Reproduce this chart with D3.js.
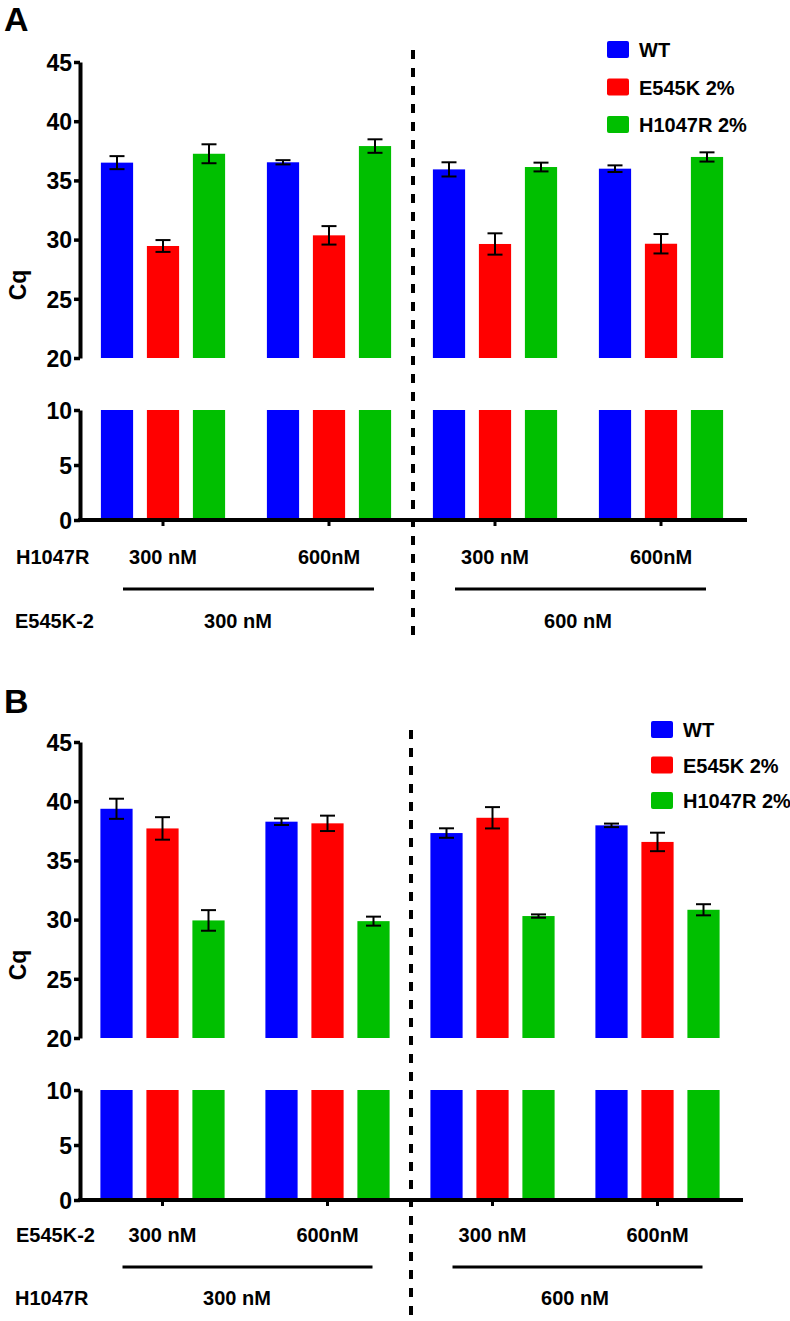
<!DOCTYPE html>
<html><head><meta charset="utf-8">
<script src="https://cdn.jsdelivr.net/npm/d3@7"></script>
<style>
html,body{margin:0;padding:0;background:#fff;}
svg text{font-family:"Liberation Sans",Arial,Helvetica,sans-serif;font-weight:bold;fill:#000;}
</style></head>
<body>
<svg id="chart" width="790" height="1321"></svg>
<script>
// ---------- data ----------
const groups = ["G1", "G2", "G3", "G4"];
const seriesNames = ["WT", "E545K 2%", "H1047R 2%"];
const seriesColors = ["#0000FF", "#FF0000", "#00BF00"];
const upperTicks = [20, 25, 30, 35, 40, 45];
const lowerTicks = [0, 5, 10];

// Panel A
const aWT = [36.50, 36.53, 35.93, 35.99];
const aWTErr = [0.55, 0.18, 0.60, 0.28];
const aE545K = [29.46, 30.36, 29.63, 29.65];
const aE545KErr = [0.50, 0.78, 0.90, 0.82];
const aH1047R = [37.25, 37.90, 36.13, 36.98];
const aH1047RErr = [0.80, 0.57, 0.37, 0.39];
const aRow1Title = "H1047R";
const aRow1Labels = ["300 nM", "600nM", "300 nM", "600nM"];
const aRow2Title = "E545K-2";
const aRow2Labels = ["300 nM", "600 nM"];

// Panel B
const bWT = [39.36, 38.27, 37.31, 37.96];
const bWTErr = [0.85, 0.28, 0.40, 0.15];
const bE545K = [37.70, 38.13, 38.60, 36.56];
const bE545KErr = [0.95, 0.65, 0.90, 0.78];
const bH1047R = [29.93, 29.87, 30.30, 30.83];
const bH1047RErr = [0.87, 0.38, 0.14, 0.47];
const bRow1Title = "E545K-2";
const bRow1Labels = ["300 nM", "600nM", "300 nM", "600nM"];
const bRow2Title = "H1047R";
const bRow2Labels = ["300 nM", "600 nM"];

// ---------- drawing ----------
const svg = d3.select("#chart");

function drawPanel(cfg) {
  const g = svg.append("g").attr("transform", `translate(0,${cfg.dy})`);
  const values = cfg.values, errs = cfg.errs;

  const x = d3.scaleBand().domain(groups).range([80, cfg.xEnd]);
  const sub = d3.scaleBand().domain(seriesNames).range([-69, 69]).paddingInner(0.3).paddingOuter(0.15);
  const yU = d3.scaleLinear().domain([20, 45]).range([358, 62]);
  const yL = d3.scaleLinear().domain([0, 10]).range([520, 410]);
  const cx = gname => x(gname) + x.bandwidth() / 2;

  const recs = [];
  seriesNames.forEach((s, si) => {
    groups.forEach((gn, gi) => {
      recs.push({s, si, gn, v: values[si][gi], e: errs[si][gi]});
    });
  });

  g.selectAll("rect.up").data(recs).join("rect").attr("class", "up")
    .attr("x", d => cx(d.gn) + sub(d.s))
    .attr("width", sub.bandwidth())
    .attr("y", d => yU(d.v))
    .attr("height", d => yU(20) - yU(d.v))
    .attr("fill", d => seriesColors[d.si]);
  g.selectAll("rect.lo").data(recs).join("rect").attr("class", "lo")
    .attr("x", d => cx(d.gn) + sub(d.s))
    .attr("width", sub.bandwidth())
    .attr("y", d => yL(Math.min(d.v, 10)))
    .attr("height", d => yL(0) - yL(Math.min(d.v, 10)))
    .attr("fill", d => seriesColors[d.si]);

  const eg = g.selectAll("g.err").data(recs).join("g").attr("class", "err")
    .attr("stroke", "#000").attr("stroke-width", 2);
  eg.append("line")
    .attr("x1", d => cx(d.gn) + sub(d.s) + sub.bandwidth() / 2)
    .attr("x2", d => cx(d.gn) + sub(d.s) + sub.bandwidth() / 2)
    .attr("y1", d => yU(d.v + d.e)).attr("y2", d => yU(d.v - d.e));
  [1, -1].forEach(sign => {
    eg.append("line")
      .attr("x1", d => cx(d.gn) + sub(d.s) + sub.bandwidth() / 2 - 7.5)
      .attr("x2", d => cx(d.gn) + sub(d.s) + sub.bandwidth() / 2 + 7.5)
      .attr("y1", d => yU(d.v + sign * d.e)).attr("y2", d => yU(d.v + sign * d.e));
  });

  const axU = g.append("g").attr("transform", "translate(80,0)")
    .call(d3.axisLeft(yU).tickValues(upperTicks).tickSize(6).tickPadding(2).tickSizeOuter(0));
  const axL = g.append("g").attr("transform", "translate(80,0)")
    .call(d3.axisLeft(yL).tickValues(lowerTicks).tickSize(6).tickPadding(2).tickSizeOuter(0));
  [axU, axL].forEach(ax => {
    ax.select(".domain").attr("stroke", "#000").attr("stroke-width", 4);
    ax.selectAll(".tick line").attr("stroke", "#000").attr("stroke-width", 3.5);
    ax.selectAll(".tick text").attr("font-size", 23).attr("dy", "0.36em")
      .style("font-family", '"Liberation Sans",Arial,sans-serif').style("font-weight", "bold");
  });

  g.append("line").attr("x1", 78).attr("x2", cfg.xEnd + 3)
    .attr("y1", yL(0)).attr("y2", yL(0)).attr("stroke", "#000").attr("stroke-width", 4);
  g.selectAll("line.xt").data(groups).join("line").attr("class", "xt")
    .attr("x1", d => cx(d)).attr("x2", d => cx(d))
    .attr("y1", yL(0)).attr("y2", yL(0) + 6)
    .attr("stroke", "#000").attr("stroke-width", 3);

  g.append("text").attr("transform", `translate(26,${(yU(20) + yU(45)) / 2 + 75}) rotate(-90)`)
    .attr("text-anchor", "middle").attr("font-size", 23).text("Cq");

  g.append("text").attr("x", 4).attr("y", cfg.letterY).attr("font-size", 34).text(cfg.letter);

  const sepX = (cx(groups[1]) + cx(groups[2])) / 2 + 1;
  g.append("line").attr("x1", sepX).attr("x2", sepX)
    .attr("y1", 50).attr("y2", cfg.sepEnd)
    .attr("stroke", "#000").attr("stroke-width", 4).attr("stroke-dasharray", "9,9");

  g.append("text").attr("x", 16).attr("y", cfg.row1Y).attr("font-size", 20).text(cfg.row1Title);
  g.selectAll("text.r1").data(groups).join("text").attr("class", "r1")
    .attr("x", d => cx(d)).attr("y", cfg.row1Y).attr("text-anchor", "middle")
    .attr("font-size", 20).text((d, i) => cfg.row1Labels[i]);

  const pairs = [[groups[0], groups[1]], [groups[2], groups[3]]];
  g.selectAll("line.br").data(pairs).join("line").attr("class", "br")
    .attr("x1", d => cx(d[0]) - 40).attr("x2", d => cx(d[1]) + 45)
    .attr("y1", cfg.lineY).attr("y2", cfg.lineY)
    .attr("stroke", "#000").attr("stroke-width", 3);

  g.append("text").attr("x", 15).attr("y", cfg.row2Y).attr("font-size", 20).text(cfg.row2Title);
  g.selectAll("text.r2").data(pairs).join("text").attr("class", "r2")
    .attr("x", (d, i) => (cx(d[0]) + cx(d[1])) / 2 - (i === 0 ? 8 : 0)).attr("y", cfg.row2Y)
    .attr("text-anchor", "middle").attr("font-size", 20).text((d, i) => cfg.row2Labels[i]);

  const lg = g.selectAll("g.leg").data(seriesNames).join("g").attr("class", "leg")
    .attr("transform", (d, i) => `translate(${cfg.legX},${cfg.legY + i * cfg.legStep})`);
  lg.append("rect").attr("width", 22).attr("height", 17).attr("rx", 2)
    .attr("fill", (d, i) => seriesColors[i]);
  lg.append("text").attr("x", 32).attr("y", 16).attr("font-size", 20).text(d => d);
}

drawPanel({
  dy: 0, letter: "A", letterY: 31, xEnd: 744, sepEnd: 640,
  values: [aWT, aE545K, aH1047R], errs: [aWTErr, aE545KErr, aH1047RErr],
  row1Title: aRow1Title, row1Labels: aRow1Labels, row2Title: aRow2Title, row2Labels: aRow2Labels,
  row1Y: 564, lineY: 589, row2Y: 628,
  legX: 607, legY: 41, legStep: 37.5
});
drawPanel({
  dy: 680, letter: "B", letterY: 33, xEnd: 740, sepEnd: 650,
  values: [bWT, bE545K, bH1047R], errs: [bWTErr, bE545KErr, bH1047RErr],
  row1Title: bRow1Title, row1Labels: bRow1Labels, row2Title: bRow2Title, row2Labels: bRow2Labels,
  row1Y: 562, lineY: 587, row2Y: 625,
  legX: 651, legY: 41, legStep: 35.5
});
</script>
</body></html>
